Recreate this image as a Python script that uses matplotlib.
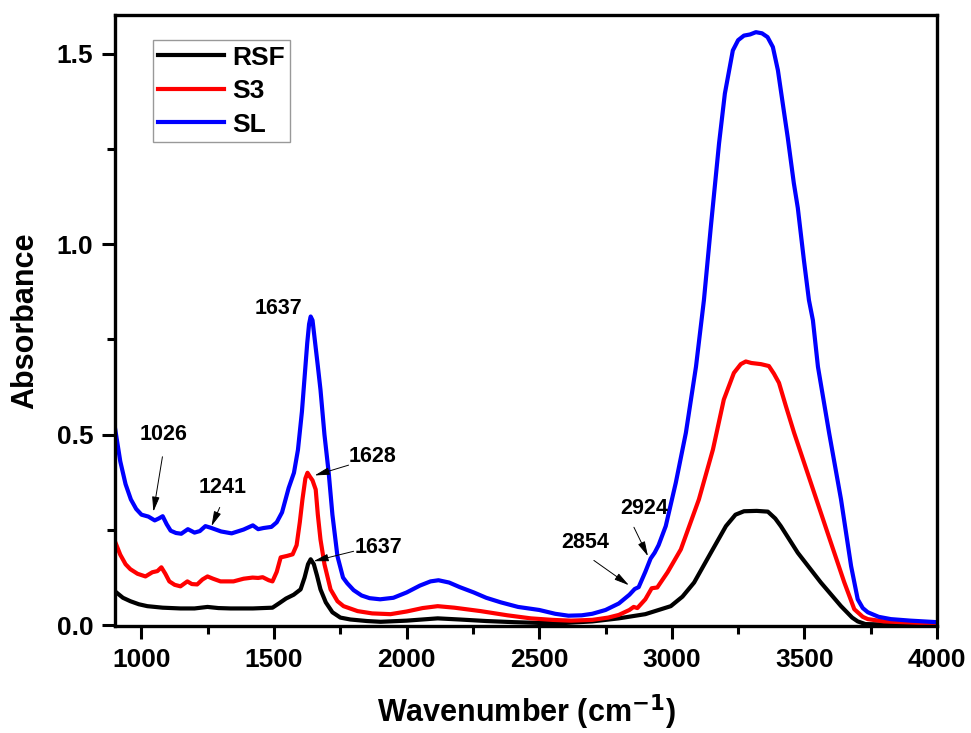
import numpy as np
import matplotlib
matplotlib.use('Agg')
import matplotlib.pyplot as plt
from matplotlib.ticker import MultipleLocator

plt.rcParams['font.family'] = ['Liberation Sans', 'DejaVu Sans']
plt.rcParams['font.weight'] = 'bold'

# SL (blue)
sl_x = [900, 920, 940, 960, 980, 1000, 1026, 1050, 1065, 1080, 1095, 1110, 1130, 1150, 1175,
        1200, 1220, 1241, 1260, 1300, 1340, 1385, 1420, 1440, 1460, 1490, 1510, 1530, 1555,
        1575, 1590, 1605, 1615, 1625, 1632, 1638, 1645, 1655, 1665, 1675, 1690, 1706, 1720,
        1739, 1760, 1776, 1800, 1830, 1860, 1900, 1950, 2000, 2050, 2090, 2120, 2160, 2200,
        2253, 2300, 2355, 2420, 2500, 2560, 2610, 2660, 2700, 2750, 2800, 2840, 2860, 2875,
        2900, 2920, 2935, 2950, 2977, 3015, 3053, 3091, 3121, 3147, 3178, 3200, 3230, 3250,
        3272, 3295, 3317, 3340, 3361, 3381, 3400, 3422, 3437, 3460, 3475, 3498, 3517, 3532,
        3551, 3593, 3638, 3676, 3701, 3720, 3739, 3780, 3826, 3900, 4000]
sl_y = [0.518, 0.43, 0.37, 0.33, 0.305, 0.29, 0.285, 0.275, 0.28, 0.286, 0.265, 0.248, 0.242,
        0.24, 0.252, 0.243, 0.247, 0.26, 0.256, 0.246, 0.241, 0.251, 0.262, 0.252, 0.255,
        0.258, 0.27, 0.296, 0.36, 0.40, 0.46, 0.56, 0.65, 0.74, 0.79, 0.81, 0.80, 0.74, 0.68,
        0.618, 0.50, 0.40, 0.29, 0.181, 0.125, 0.11, 0.092, 0.078, 0.071, 0.068, 0.072, 0.086,
        0.104, 0.115, 0.118, 0.112, 0.10, 0.086, 0.072, 0.06, 0.048, 0.04, 0.03, 0.025, 0.026,
        0.03, 0.04, 0.057, 0.08, 0.095, 0.10, 0.14, 0.175, 0.19, 0.21, 0.26, 0.374, 0.505,
        0.678, 0.853, 1.045, 1.264, 1.395, 1.508, 1.535, 1.547, 1.55, 1.556, 1.553, 1.543,
        1.517, 1.456, 1.351, 1.28, 1.16, 1.095, 0.958, 0.853, 0.80, 0.678, 0.505, 0.33,
        0.155, 0.068, 0.045, 0.034, 0.022, 0.016, 0.012, 0.008]

# S3 (red)
s3_x = [900, 920, 940, 958, 985, 1015, 1041, 1060, 1075, 1090, 1105, 1125, 1147, 1173, 1190,
        1210, 1230, 1249, 1270, 1298, 1347, 1385, 1419, 1440, 1457, 1480, 1494, 1510, 1525,
        1550, 1570, 1585, 1597, 1607, 1618, 1626, 1635, 1645, 1657, 1665, 1675, 1690, 1713,
        1739, 1762, 1815, 1870, 1939, 2000, 2060, 2117, 2180, 2279, 2380, 2468, 2550, 2620,
        2700, 2760, 2800, 2840, 2856, 2870, 2900, 2924, 2945, 2984, 3034, 3102, 3155, 3196,
        3234, 3260, 3279, 3300, 3336, 3366, 3385, 3404, 3430, 3461, 3524, 3587, 3650, 3688,
        3720, 3739, 3800, 4000]
s3_y = [0.22, 0.185, 0.16, 0.147, 0.135, 0.128, 0.139, 0.142, 0.152, 0.135, 0.115, 0.106,
        0.102, 0.115, 0.108, 0.107, 0.12, 0.128, 0.122, 0.115, 0.115, 0.122, 0.125, 0.124,
        0.126, 0.118, 0.115, 0.14, 0.178, 0.182, 0.186, 0.21, 0.27, 0.33, 0.385, 0.40, 0.39,
        0.38, 0.356, 0.29, 0.225, 0.16, 0.094, 0.063, 0.05, 0.037, 0.031, 0.029, 0.036, 0.045,
        0.05, 0.046, 0.037, 0.026, 0.018, 0.014, 0.012, 0.014, 0.02, 0.027, 0.04, 0.048, 0.045,
        0.068, 0.097, 0.099, 0.139, 0.199, 0.33, 0.461, 0.592, 0.662, 0.685, 0.692, 0.688,
        0.685, 0.68, 0.66, 0.636, 0.575, 0.505, 0.374, 0.243, 0.113, 0.042, 0.022, 0.016,
        0.01, 0.004]

# RSF (black)
rsf_x = [900, 930, 958, 990, 1022, 1080, 1147, 1200, 1249, 1290, 1336, 1420, 1494, 1520, 1545,
         1574, 1600, 1615, 1628, 1638, 1650, 1662, 1675, 1695, 1720, 1750, 1788, 1850, 1902,
         2000, 2117, 2200, 2300, 2405, 2500, 2600, 2700, 2800, 2900, 2996, 3040, 3084, 3147,
         3204, 3240, 3272, 3320, 3362, 3390, 3411, 3475, 3562, 3638, 3680, 3701, 3730, 3800,
         4000]
rsf_y = [0.089, 0.072, 0.063, 0.055, 0.05, 0.046, 0.044, 0.044, 0.048, 0.045, 0.044, 0.044,
         0.046, 0.058, 0.07, 0.08, 0.094, 0.125, 0.16, 0.173, 0.16, 0.13, 0.094, 0.06, 0.034,
         0.02, 0.015, 0.011, 0.009, 0.012, 0.018, 0.015, 0.011, 0.008, 0.006, 0.006, 0.01,
         0.018, 0.029, 0.05, 0.075, 0.112, 0.19, 0.26, 0.29, 0.299, 0.30, 0.298, 0.28, 0.26,
         0.19, 0.112, 0.05, 0.02, 0.01, 0.003, 0.002, 0.002]

# peak labels: text, text position, arrow tail and tip (None = no arrow)
ann_text = ['1637', '1628', '1637', '1026', '1241', '2854', '2924']
ann_xy_text = [(1517, 0.832), (1871, 0.442), (1895, 0.204), (1083, 0.50), (1306, 0.361),
               (2672, 0.217), (2895, 0.306)]
ann_tail = [None, (1781, 0.42), (1800, 0.194), (1079, 0.442), (1295, 0.309),
            (2706, 0.17), (2857, 0.257)]
ann_head = [None, (1653, 0.393), (1649, 0.168), (1045, 0.298), (1264, 0.26),
            (2838, 0.105), (2910, 0.181)]

fig = plt.figure(figsize=(9.71, 7.33), dpi=100)
ax = fig.add_axes([0.1184, 0.146, 0.8466, 0.833])

lw = 3.0
ax.plot(rsf_x, rsf_y, color='black', lw=lw, label='RSF', solid_joinstyle='round')
ax.plot(s3_x, s3_y, color='red', lw=lw, label='S3', solid_joinstyle='round')
ax.plot(sl_x, sl_y, color='blue', lw=lw, label='SL', solid_joinstyle='round')

for t, pos, tail, head in zip(ann_text, ann_xy_text, ann_tail, ann_head):
    ax.text(pos[0], pos[1], t, fontsize=15.5, fontweight='bold', ha='center', va='center')
    if tail is not None:
        ax.annotate('', xy=head, xytext=tail,
                    arrowprops=dict(arrowstyle='-|>,head_length=0.6,head_width=0.15',
                                    color='black', lw=0.7, mutation_scale=15,
                                    shrinkA=0, shrinkB=0))

ax.set_xlim(900, 4000)
ax.set_ylim(-0.002, 1.6)
ax.xaxis.set_major_locator(MultipleLocator(500))
ax.xaxis.set_minor_locator(MultipleLocator(250))
ax.yaxis.set_major_locator(MultipleLocator(0.5))
ax.yaxis.set_minor_locator(MultipleLocator(0.25))
ax.yaxis.set_major_formatter(plt.FormatStrFormatter('%.1f'))
ax.tick_params(which='major', direction='out', length=9.5, width=2.2, labelsize=19, pad=6)
ax.tick_params(which='minor', direction='out', length=5.8, width=2.2)
for lab in ax.get_xticklabels() + ax.get_yticklabels():
    lab.set_fontweight('bold')
for sp in ax.spines.values():
    sp.set_linewidth(2.4)

ax.set_xlabel('Wavenumber (cm$^{\\mathbf{-1}}$)', fontsize=22, fontweight='bold', labelpad=15)
ax.set_ylabel('Absorbance', fontsize=22, fontweight='bold', labelpad=12)

leg = ax.legend(loc='upper left', bbox_to_anchor=(0.046, 0.959), borderaxespad=0,
                fontsize=19, frameon=True, fancybox=False, handlelength=2.5,
                handletextpad=0.3, labelspacing=0.36, borderpad=0.2)
leg.get_frame().set_edgecolor('gray')
leg.get_frame().set_linewidth(1.0)
for txt in leg.get_texts():
    txt.set_fontweight('bold')

fig.savefig('out.png', dpi=100)
